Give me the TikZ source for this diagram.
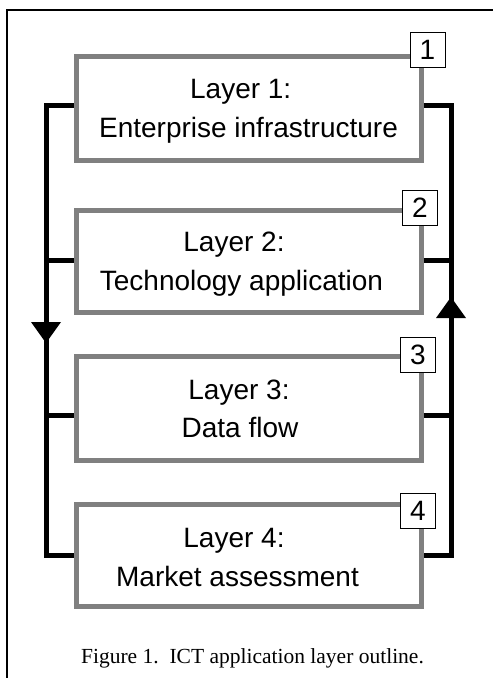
\documentclass[tikz,border=0pt]{standalone}
\usepackage{fontspec}
\setmainfont{Liberation Serif}
\newfontfamily\arialf{Liberation Sans}
\definecolor{boxgray}{RGB}{128,128,128}
\begin{document}
\begin{tikzpicture}[x=1pt,y=-1pt,
  layer/.style={draw=boxgray, line width=5pt, minimum width=345pt, inner sep=0pt, fill=white},
  lbl/.style={font=\arialf\fontsize{28}{34}\selectfont, anchor=base, inner sep=0pt},
  num/.style={draw=black, line width=1pt, fill=white, minimum size=35pt, inner sep=0pt, font=\arialf\fontsize{28}{34}\selectfont},
  conn/.style={draw=black, line width=5pt, line join=miter},
  tip/.style={fill=black},
  frame/.style={draw=black, line width=1.3pt}
]
\useasboundingbox (0,0) rectangle (493,678);
\clip (0,0) rectangle (493,678);
\fill[white] (0,0) rectangle (493,678);
\draw[frame] (7,700) -- (7,10) -- (520,10);

% layer boxes
\node[layer, minimum height=104pt] (b1) at (248.5,108.5) {};
\node[layer, minimum height=102pt] (b2) at (248.5,261.5) {};
\node[layer, minimum height=104pt] (b3) at (248.5,408.5) {};
\node[layer, minimum height=102pt] (b4) at (248.5,555.25) {};

% connector coordinates
\coordinate (l1) at (46,105.5);
\coordinate (l2) at (46,260.5);
\coordinate (l3) at (46,415.5);
\coordinate (l4) at (46,555.5);
\coordinate (r1) at (451,105.5);
\coordinate (r2) at (451,260.5);
\coordinate (r3) at (451,415.5);
\coordinate (r4) at (451,555.5);

\draw[conn] (b1.west |- l1) -- (l1) -- (l4) -- (b4.west |- l4);
\draw[conn] (b2.west |- l2) -- (l2);
\draw[conn] (b3.west |- l3) -- (l3);
\draw[conn] (b1.east |- r1) -- (r1) -- (r4) -- (b4.east |- r4);
\draw[conn] (b2.east |- r2) -- (r2);
\draw[conn] (b3.east |- r3) -- (r3);

% arrowheads
\fill[tip] (31,322) -- (61,322) -- (46,343) -- cycle;
\fill[tip] (436,318) -- (466,318) -- (451,297) -- cycle;

% labels
\node[lbl] (t1a) at (240.7,98.5) {Layer 1:};
\node[lbl] (t1b) at (248.5,137.5) {Enterprise infrastructure};
\node[lbl] (t2a) at (234,251.5) {Layer 2:};
\node[lbl] (t2b) at (241.5,290) {Technology application};
\node[lbl] (t3a) at (239,399) {Layer 3:};
\node[lbl] (t3b) at (240,437) {Data flow};
\node[lbl] (t4a) at (234,547) {Layer 4:};
\node[lbl] (t4b) at (237.5,586) {Market assessment};

% number tags
\node[num] (n1) at (427.5,49.5) {1};
\node[num] (n2) at (420,207.5) {2};
\node[num] (n3) at (418,355) {3};
\node[num] (n4) at (418,511) {4};

% caption
\node[font=\fontsize{21.5}{26}\selectfont, anchor=base, inner sep=0pt] (cap) at (252.5,663) {Figure 1.\ \ ICT application layer outline.};
\end{tikzpicture}
\end{document}
